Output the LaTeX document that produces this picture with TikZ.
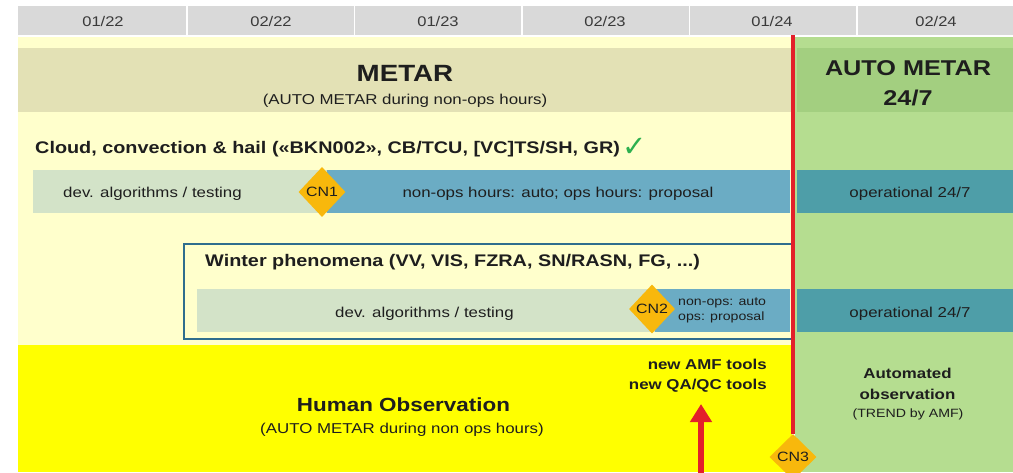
\documentclass[tikz,border=0pt]{standalone}
\usepackage{fontspec}
\setmainfont{Liberation Sans}[FakeStretch=1.18]
\newfontfamily\symfont{DejaVu Sans}
\usetikzlibrary{shapes.geometric,arrows.meta}
\definecolor{hdrgray}{HTML}{D9D9D9}
\definecolor{hdrtext}{HTML}{3A3A3A}
\definecolor{paleyellow}{HTML}{FFFFCC}
\definecolor{khaki}{HTML}{E3E1B5}
\definecolor{autogreen}{HTML}{B5DD90}
\definecolor{darkgreen}{HTML}{A3CF80}
\definecolor{devgreen}{HTML}{D3E3C8}
\definecolor{blueband}{HTML}{6BACC4}
\definecolor{tealband}{HTML}{4E9EA8}
\definecolor{gold}{HTML}{F8B80C}
\definecolor{humanyellow}{HTML}{FFFF00}
\definecolor{redline}{HTML}{E3202A}
\definecolor{winterborder}{HTML}{2F6E8E}
\definecolor{checkgreen}{HTML}{2DB04F}
\definecolor{textdark}{HTML}{1E1E1E}
\begin{document}
\begin{tikzpicture}[x=1pt,y=-1pt,
  lbl/.style={anchor=base,inner sep=0pt,text=textdark},
  hdrlbl/.style={anchor=base,inner sep=0pt,text=hdrtext,font=\fontsize{14}{16}\selectfont},
  regtext/.style={lbl,font=\fontsize{14.3}{17}\selectfont},
  smalltext/.style={lbl,font=\fontsize{12}{14}\selectfont},
  boldtext/.style={lbl,font=\bfseries\fontsize{14.3}{17}\selectfont},
  headtext/.style={lbl,font=\bfseries\fontsize{16.8}{20}\selectfont},
  bigtext/.style={lbl,font=\bfseries\fontsize{23.5}{28}\selectfont},
  cnbox/.style={diamond,fill=gold,inner sep=0pt,text=textdark,font=\fontsize{13.5}{15}\selectfont},
  sep/.style={white,line width=1.5pt},
  redrule/.style={redline,line width=4pt},
  redarrow/.style={redline,line width=6pt,-{Triangle[width=21pt,length=18pt]}}
]
\clip (0,0) rectangle (1013,472);
\fill[white] (0,0) rectangle (1013,472);

% header
\fill[hdrgray] (18,6) rectangle (1013,35);
\foreach \x in {187,354.5,522,689.5,857} \draw[sep] (\x,6) -- (\x,35);
\node[hdrlbl] (h1) at (103,26) {01/22};
\node[hdrlbl] (h2) at (271,26) {02/22};
\node[hdrlbl] (h3) at (438,26) {01/23};
\node[hdrlbl] (h4) at (605,26) {02/23};
\node[hdrlbl] (h5) at (772,26) {01/24};
\node[hdrlbl] (h6) at (936,26) {02/24};

% panels
\fill[paleyellow] (18,37) rectangle (793,345);
\fill[khaki] (18,48) rectangle (793,112);
\fill[autogreen] (795,37) rectangle (1013,472);
\fill[darkgreen] (797,48) rectangle (1013,112);

\node[bigtext] (metar) at (405,81) {METAR};
\node[regtext] (metarsub) at (405,104) {(AUTO METAR during non-ops hours)};
\node[bigtext,font=\bfseries\fontsize{21.4}{26}\selectfont] (auto1) at (908,75) {AUTO METAR};
\node[bigtext,font=\bfseries\fontsize{21.4}{26}\selectfont] (auto2) at (908,105) {24/7};

% cloud row
\node[headtext,anchor=base west] (cloud) at (35,153) {Cloud, convection \& hail («BKN002», CB/TCU, [VC]TS/SH, GR)};
\node[anchor=base west,inner sep=0pt,text=checkgreen,font=\symfont\fontsize{29}{30}\selectfont] (check) at ([xshift=2pt,yshift=-3pt]cloud.base east) {✓};
\fill[devgreen] (33,170) rectangle (327,213);
\fill[blueband] (327,170) rectangle (790,213);
\fill[tealband] (797,170) rectangle (1013,213);
\node[regtext] (dev1) at (152.5,197) {dev. algorithms / testing};
\node[regtext] (nonops1) at (558,197) {non-ops hours: auto; ops hours: proposal};
\node[regtext] (oper1) at (910,197) {operational 24/7};
\node[cnbox,minimum width=47pt,minimum height=50pt] (cn1) at (322,192) {CN1};

% winter box
\draw[winterborder,line width=2.2pt,fill=paleyellow] (184,244) rectangle (792,339);
\node[headtext,anchor=base west] (winter) at (205,266.5) {Winter phenomena (VV, VIS, FZRA, SN/RASN, FG, ...)};
\fill[devgreen] (197,289) rectangle (655,332);
\fill[blueband] (655,289) rectangle (790,332);
\fill[tealband] (797,289) rectangle (1013,332);
\node[regtext] (dev2) at (424.5,317) {dev. algorithms / testing};
\node[smalltext,anchor=base west] (nonops2a) at (678,305) {non-ops: auto};
\node[smalltext,anchor=base west] (nonops2b) at (678,320.5) {ops: proposal};
\node[regtext] (oper2) at (910,317) {operational 24/7};
\node[cnbox,minimum width=46pt,minimum height=49pt] (cn2) at (652,309) {CN2};

% human observation
\fill[humanyellow] (18,345) rectangle (792,472);
\node[headtext,font=\bfseries\fontsize{19}{22}\selectfont] (human) at (403.5,411) {Human Observation};
\node[regtext] (humansub) at (402,433.5) {(AUTO METAR during non ops hours)};
\node[boldtext,anchor=base east] (tools1) at (767,369.5) {new AMF tools};
\node[boldtext,anchor=base east] (tools2) at (767,389.5) {new QA/QC tools};

% automated observation
\node[boldtext] (autoobs1) at (907.5,378) {Automated};
\node[boldtext] (autoobs2) at (907.5,399) {observation};
\node[smalltext] (trend) at (908,417) {(TREND by AMF)};

% red rule and CN3
\node[cnbox,minimum width=47pt,minimum height=46pt] (cn3) at (793,457) {CN3};
\coordinate (ruletop) at (793,35);
\draw[redrule] (ruletop) -- (cn3.north);

% red arrow
\coordinate (arrowfoot) at (701,474);
\coordinate (arrowtip) at (701,404);
\draw[redarrow] (arrowfoot) -- (arrowtip);
\end{tikzpicture}
\end{document}
